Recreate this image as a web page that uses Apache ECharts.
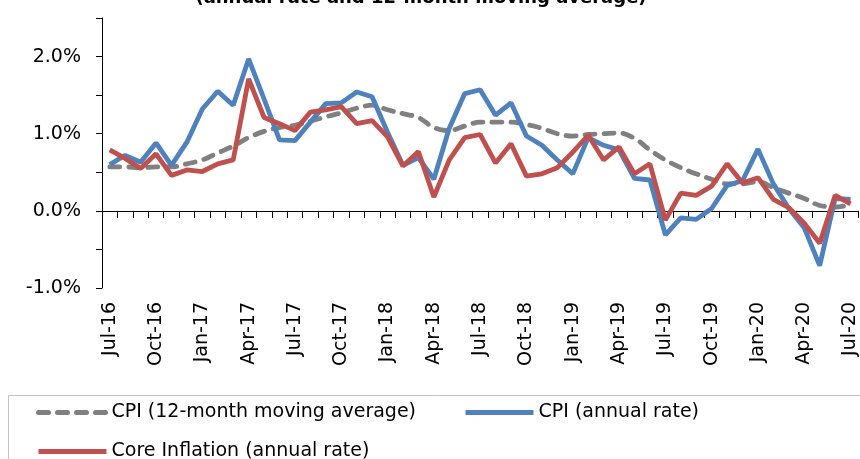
<!DOCTYPE html>
<html lang="en">

<head>
   <meta charset="UTF-8">
   <title>CPI and core inflation</title>
   <script type="text/javascript" src="https://cdn.jsdelivr.net/npm/echarts@6/dist/echarts.min.js"></script>
   <style>
      body { margin: 0; background: #fff; }
      #container { width: 860px; height: 459px; }
   </style>
</head>

<body>
   <div id="container"></div>

   <script>
      var months = [
         'Jul-16', 'Aug-16', 'Sep-16', 'Oct-16', 'Nov-16', 'Dec-16',
         'Jan-17', 'Feb-17', 'Mar-17', 'Apr-17', 'May-17', 'Jun-17',
         'Jul-17', 'Aug-17', 'Sep-17', 'Oct-17', 'Nov-17', 'Dec-17',
         'Jan-18', 'Feb-18', 'Mar-18', 'Apr-18', 'May-18', 'Jun-18',
         'Jul-18', 'Aug-18', 'Sep-18', 'Oct-18', 'Nov-18', 'Dec-18',
         'Jan-19', 'Feb-19', 'Mar-19', 'Apr-19', 'May-19', 'Jun-19',
         'Jul-19', 'Aug-19', 'Sep-19', 'Oct-19', 'Nov-19', 'Dec-19',
         'Jan-20', 'Feb-20', 'Mar-20', 'Apr-20', 'May-20', 'Jun-20',
         'Jul-20'
      ];
      // CPI, 12-month moving average (%)
      var cpiAvg = [
         0.57, 0.57, 0.56, 0.57, 0.57, 0.61,
         0.66, 0.75, 0.84, 0.95, 1.03, 1.08,
         1.11, 1.16, 1.22, 1.27, 1.33, 1.37,
         1.31, 1.26, 1.21, 1.08, 1.04, 1.10,
         1.15, 1.15, 1.15, 1.12, 1.07, 1.00,
         0.97, 0.99, 1.00, 1.01, 0.94, 0.79,
         0.66, 0.56, 0.48, 0.41, 0.35, 0.35,
         0.38, 0.30, 0.23, 0.16, 0.07, 0.05,
         0.08
      ];
      // CPI, annual rate (%)
      var cpiRate = [
         0.60, 0.72, 0.63, 0.88, 0.59, 0.89,
         1.32, 1.55, 1.37, 1.97, 1.45, 0.92,
         0.91, 1.15, 1.39, 1.40, 1.54, 1.48,
         1.02, 0.59, 0.69, 0.41, 1.07, 1.52,
         1.57, 1.24, 1.40, 0.97, 0.85, 0.66,
         0.48, 0.95, 0.85, 0.79, 0.42, 0.40,
         -0.31, -0.09, -0.11, 0.03, 0.33, 0.39,
         0.80, 0.35, 0.03, -0.22, -0.71, 0.16,
         0.15
      ];
      // core inflation, annual rate (%)
      var coreRate = [
         0.79, 0.68, 0.55, 0.74, 0.46, 0.53,
         0.51, 0.61, 0.66, 1.71, 1.21, 1.13,
         1.04, 1.28, 1.31, 1.35, 1.13, 1.17,
         0.96, 0.58, 0.77, 0.18, 0.66, 0.95,
         0.99, 0.62, 0.87, 0.45, 0.48, 0.56,
         0.76, 0.98, 0.66, 0.83, 0.48, 0.61,
         -0.12, 0.23, 0.20, 0.32, 0.61, 0.36,
         0.43, 0.15, 0.04, -0.16, -0.42, 0.20,
         0.09
      ];

      var font = 'DejaVu Sans';

      var chartDom = document.getElementById('container');
      var myChart = echarts.init(chartDom);

      // legend look shared by both rows
      var legendBase = {
         left: 36,
         padding: 0,
         itemWidth: 68,
         itemHeight: 14,
         itemGap: 47,
         itemStyle: { opacity: 0 },
         lineStyle: { width: 5 },
         textStyle: { fontFamily: font, fontSize: 19, color: '#000' }
      };

      var option = {
         animation: false,
         title: {
            text: '(annual rate and 12-month moving average)',
            left: 421,
            top: -11,
            padding: 0,
            textAlign: 'center',
            textStyle: { fontFamily: font, fontSize: 18, fontWeight: 'bold', color: '#000' }
         },
         legend: [
            Object.assign({}, legendBase, {
               data: ['CPI (12-month moving average)', 'CPI (annual rate)'],
               top: 403
            }),
            Object.assign({}, legendBase, {
               data: ['Core Inflation (annual rate)'],
               top: 442
            })
         ],
         graphic: [
            {
               type: 'rect',
               shape: { x: 8.5, y: 395.5, width: 900, height: 100 },
               style: { fill: 'none', stroke: '#c4c4c4', lineWidth: 1 },
               silent: true
            }
         ],
         grid: { left: 102, right: -4, top: 18, bottom: 171 },
         xAxis: [
            {
               // month labels at the bottom of the plot
               type: 'category',
               data: months,
               position: 'bottom',
               axisLine: { show: false, onZero: false },
               axisTick: { show: false },
               axisLabel: {
                  interval: 2,
                  rotate: 90,
                  margin: 14,
                  fontFamily: font,
                  fontSize: 19,
                  color: '#000'
               },
               splitLine: { show: false }
            },
            {
               // axis line with ticks crossing at 0%
               type: 'category',
               data: months,
               position: 'bottom',
               axisLine: { show: true, onZero: true, lineStyle: { color: '#000', width: 1 } },
               axisTick: { show: true, interval: 0, length: 7, lineStyle: { color: '#000' } },
               axisLabel: { show: false },
               splitLine: { show: false }
            }
         ],
         yAxis: {
            type: 'value',
            min: -1,
            max: 2.5,
            interval: 0.5,
            axisLine: { show: true, lineStyle: { color: '#000', width: 1 } },
            axisTick: { show: true, length: 6, lineStyle: { color: '#000' } },
            splitLine: { show: false },
            axisLabel: {
               margin: 21,
               fontFamily: font,
               fontSize: 19,
               color: '#000',
               formatter: function (v) {
                  if (Math.abs(v - Math.round(v)) > 1e-6) return '';
                  return Math.round(v).toFixed(1) + '%';
               }
            }
         },
         series: [
            {
               name: 'CPI (12-month moving average)',
               type: 'line',
               data: cpiAvg,
               smooth: 0.35,
               symbol: 'none',
               lineStyle: { color: '#808080', width: 4.8, type: [10, 9], cap: 'round' },
               itemStyle: { color: '#808080' }
            },
            {
               name: 'CPI (annual rate)',
               type: 'line',
               data: cpiRate,
               symbol: 'none',
               lineStyle: { color: '#4F81BD', width: 4.8 },
               itemStyle: { color: '#4F81BD' }
            },
            {
               name: 'Core Inflation (annual rate)',
               type: 'line',
               data: coreRate,
               symbol: 'none',
               lineStyle: { color: '#C0504D', width: 4.8 },
               itemStyle: { color: '#C0504D' }
            }
         ]
      };

      option && myChart.setOption(option);
   </script>
</body>

</html>
